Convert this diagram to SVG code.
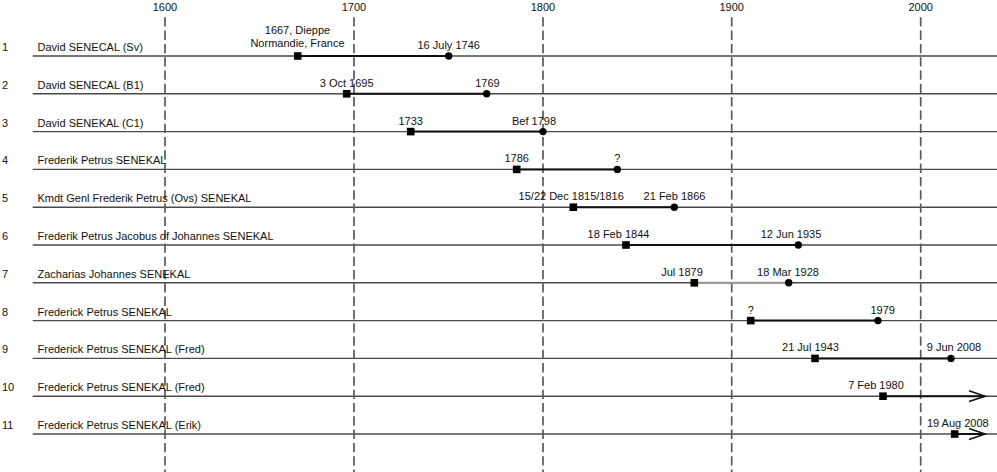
<svg xmlns="http://www.w3.org/2000/svg" width="997" height="472" viewBox="0 0 997 472">
<style>
text{font-family:"Liberation Sans",Arial,sans-serif;font-size:11px;fill:#111}
.c{text-anchor:middle}
.grid{stroke:#5a5a5a;stroke-width:1.7;stroke-dasharray:9.3,4}
.row{stroke:#4a4a4a;stroke-width:1.4}
.span{stroke:#111;stroke-width:2}
.sq{fill:#000}
.dot{fill:#000}
.arr{fill:none;stroke:#111;stroke-width:1.6}
</style>
<rect width="997" height="472" fill="#fff"/>
<g id="axis">
<text class="c" x="165" y="11">1600</text>
<text class="c" x="354" y="11">1700</text>
<text class="c" x="543" y="11">1800</text>
<text class="c" x="731.7" y="11">1900</text>
<text class="c" x="920.7" y="11">2000</text>
</g>
<g id="rows">
<line class="row" x1="32.7" y1="56" x2="997" y2="56"/>
<line class="row" x1="32.7" y1="93.8" x2="997" y2="93.8"/>
<line class="row" x1="32.7" y1="131.6" x2="997" y2="131.6"/>
<line class="row" x1="32.7" y1="169.4" x2="997" y2="169.4"/>
<line class="row" x1="32.7" y1="207.2" x2="997" y2="207.2"/>
<line class="row" x1="32.7" y1="245" x2="997" y2="245"/>
<line class="row" x1="32.7" y1="282.8" x2="997" y2="282.8"/>
<line class="row" x1="32.7" y1="320.6" x2="997" y2="320.6"/>
<line class="row" x1="32.7" y1="358.4" x2="997" y2="358.4"/>
<line class="row" x1="32.7" y1="396.2" x2="997" y2="396.2"/>
<line class="row" x1="32.7" y1="434" x2="997" y2="434"/>
</g>
<g id="grid">
<line class="grid" x1="165" y1="17.3" x2="165" y2="472"/>
<line class="grid" x1="354" y1="17.3" x2="354" y2="472"/>
<line class="grid" x1="543" y1="17.3" x2="543" y2="472"/>
<line class="grid" x1="731.7" y1="17.3" x2="731.7" y2="472"/>
<line class="grid" x1="920.7" y1="17.3" x2="920.7" y2="472"/>
</g>
<g id="connectors">
<line class="span" x1="297.7" y1="56" x2="448.7" y2="56"/>
<line class="span" x1="346.7" y1="93.8" x2="486.7" y2="93.8"/>
<line class="span" x1="410.7" y1="131.6" x2="543" y2="131.6"/>
<line class="span" x1="516.7" y1="169.4" x2="617.3" y2="169.4"/>
<line class="span" x1="573.3" y1="207.2" x2="674.3" y2="207.2"/>
<line class="span" x1="626" y1="245" x2="798.3" y2="245"/>
<line class="span" style="stroke:#9a9a9a" x1="694.3" y1="282.8" x2="788.7" y2="282.8"/>
<line class="span" x1="750.7" y1="320.6" x2="878" y2="320.6"/>
<line class="span" x1="815" y1="358.4" x2="951" y2="358.4"/>
<line class="span" x1="883" y1="396.2" x2="985" y2="396.2"/>
<polyline class="arr" points="969,390.8 985,396.2 969,401.6"/>
<line class="span" x1="954.7" y1="434" x2="985" y2="434"/>
<polyline class="arr" points="969,428.6 985,434 969,439.4"/>
</g>
<g id="row1">
<text x="2" y="51">1</text><text x="37.5" y="51">David SENECAL (Sv)</text>
<rect class="sq" x="293.9" y="52.2" width="7.6" height="7.6"/><circle class="dot" cx="448.7" cy="56" r="3.7"/>
<text class="c" x="297.5" y="34.3">1667, Dieppe</text><text class="c" x="297.5" y="47">Normandie, France</text>
<text class="c" x="448.7" y="49">16 July 1746</text>
</g>
<g id="row2">
<text x="2" y="88.8">2</text><text x="37.5" y="88.8">David SENECAL (B1)</text>
<rect class="sq" x="342.9" y="90" width="7.6" height="7.6"/><circle class="dot" cx="486.7" cy="93.8" r="3.7"/>
<text class="c" x="346.7" y="86.8">3 Oct 1695</text><text class="c" x="487.5" y="86.8">1769</text>
</g>
<g id="row3">
<text x="2" y="126.6">3</text><text x="37.5" y="126.6">David SENEKAL (C1)</text>
<rect class="sq" x="406.9" y="127.8" width="7.6" height="7.6"/><circle class="dot" cx="543" cy="131.6" r="3.7"/>
<text class="c" x="410.7" y="124.6">1733</text><text class="c" x="534" y="124.6">Bef 1798</text>
</g>
<g id="row4">
<text x="2" y="164.4">4</text><text x="37.5" y="164.4">Frederik Petrus SENEKAL</text>
<rect class="sq" x="512.9" y="165.6" width="7.6" height="7.6"/><circle class="dot" cx="617.3" cy="169.4" r="3.7"/>
<text class="c" x="516.7" y="162.4">1786</text><text class="c" x="617.3" y="162.4">?</text>
</g>
<g id="row5">
<text x="2" y="202.2">5</text><text x="37.5" y="202.2">Kmdt Genl Frederik Petrus (Ovs) SENEKAL</text>
<rect class="sq" x="569.5" y="203.4" width="7.6" height="7.6"/><circle class="dot" cx="674.3" cy="207.2" r="3.7"/>
<text class="c" x="571.2" y="200.2">15/22 Dec 1815/1816</text><text class="c" x="674.5" y="200.2">21 Feb 1866</text>
</g>
<g id="row6">
<text x="2" y="240">6</text><text x="37.5" y="240">Frederik Petrus Jacobus of Johannes SENEKAL</text>
<rect class="sq" x="622.2" y="241.2" width="7.6" height="7.6"/><circle class="dot" cx="798.3" cy="245" r="3.7"/>
<text class="c" x="618.5" y="238">18 Feb 1844</text><text class="c" x="791" y="238">12 Jun 1935</text>
</g>
<g id="row7">
<text x="2" y="277.8">7</text><text x="37.5" y="277.8">Zacharias Johannes SENEKAL</text>
<rect class="sq" x="690.5" y="279" width="7.6" height="7.6"/><circle class="dot" cx="788.7" cy="282.8" r="3.7"/>
<text class="c" x="682" y="275.8">Jul 1879</text><text class="c" x="788" y="275.8">18 Mar 1928</text>
</g>
<g id="row8">
<text x="2" y="315.6">8</text><text x="37.5" y="315.6">Frederick Petrus SENEKAL</text>
<rect class="sq" x="746.9" y="316.8" width="7.6" height="7.6"/><circle class="dot" cx="878" cy="320.6" r="3.7"/>
<text class="c" x="750.7" y="313.6">?</text><text class="c" x="882.7" y="313.6">1979</text>
</g>
<g id="row9">
<text x="2" y="353.4">9</text><text x="37.5" y="353.4">Frederick Petrus SENEKAL (Fred)</text>
<rect class="sq" x="811.2" y="354.6" width="7.6" height="7.6"/><circle class="dot" cx="951" cy="358.4" r="3.7"/>
<text class="c" x="810.5" y="351.4">21 Jul 1943</text><text class="c" x="954" y="351.4">9 Jun 2008</text>
</g>
<g id="row10">
<text x="2" y="391.2">10</text><text x="37.5" y="391.2">Frederick Petrus SENEKAL (Fred)</text>
<rect class="sq" x="879.2" y="392.4" width="7.6" height="7.6"/>
<text class="c" x="876" y="389.2">7 Feb 1980</text>
</g>
<g id="row11">
<text x="2" y="429">11</text><text x="37.5" y="429">Frederick Petrus SENEKAL (Erik)</text>
<rect class="sq" x="950.9" y="430.2" width="7.6" height="7.6"/>
<text class="c" x="957.8" y="427">19 Aug 2008</text>
</g>
</svg>
